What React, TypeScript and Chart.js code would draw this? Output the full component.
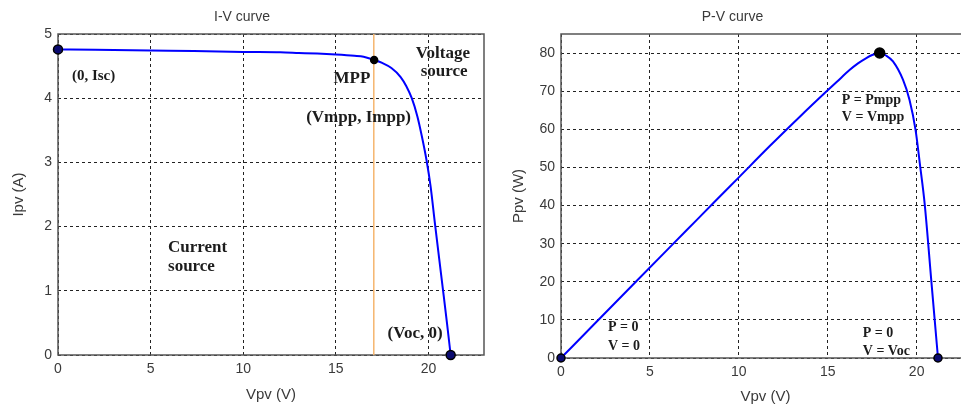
import React, { useEffect, useRef } from 'react';
import { Chart, registerables } from 'chart.js';

Chart.register(...registerables);

// ---------- I-V curve data ----------
const ivVoltage = [0, 2, 4, 6, 8, 10, 12, 13, 14, 15, 16, 16.5, 17.07, 17.5, 18.0, 18.5, 18.8, 19.1, 19.4, 19.65, 19.9, 20.12, 20.35, 20.58, 20.8, 21.0, 21.2];
const ivCurrent = [4.76, 4.755, 4.745, 4.74, 4.73, 4.72, 4.715, 4.705, 4.695, 4.68, 4.66, 4.645, 4.595, 4.55, 4.47, 4.33, 4.19, 4.0, 3.72, 3.4, 3.03, 2.62, 2.05, 1.5, 0.98, 0.5, 0];
const ivKeyVoltage = [0, 17.07, 21.2];
const ivKeyCurrent = [4.76, 4.595, 0];
const mppVoltageIV = 17.05;
const ivYRange = [0, 5];

// ---------- P-V curve data ----------
const pvVoltage = [0, 2, 4.25, 7.06, 8.75, 9.96, 11.74, 13.43, 14.83, 15.5, 16.24, 16.7, 17.17, 17.5, 17.92, 18.3, 18.67, 19.23, 19.6, 19.94, 20.2, 20.45, 20.82, 21.0, 21.2];
const pvPower = [0, 9.5, 20.2, 33.5, 41.5, 47.2, 55.6, 63.3, 69.5, 72.4, 75.6, 77.3, 78.7, 79.5, 80.0, 79.3, 77.8, 73.0, 67.7, 59.8, 50.2, 40.5, 20.5, 10.8, 0];
const pvKeyVoltage = [0, 17.92, 21.2];
const pvKeyPower = [0, 80, 0];

// ---------- axis settings ----------
const xTickStep = 5;
const ivTickStep = 1;
const pvTickStep = 10;

type Note = { text: string; x: number; y: number; align: CanvasTextAlign; size: number };

const ivNotes: Note[] = [
  { text: '(0, Isc)', x: 1.92, y: 4.35, align: 'center', size: 15 },
  { text: 'MPP', x: 15.87, y: 4.31, align: 'center', size: 17 },
  { text: '(Vmpp, Impp)', x: 16.23, y: 3.69, align: 'center', size: 17 },
  { text: 'Voltage', x: 20.78, y: 4.7, align: 'center', size: 17 },
  { text: 'source', x: 20.85, y: 4.41, align: 'center', size: 17 },
  { text: 'Current', x: 5.94, y: 1.68, align: 'left', size: 17 },
  { text: 'source', x: 5.94, y: 1.37, align: 'left', size: 17 },
  { text: '(Voc, 0)', x: 19.28, y: 0.34, align: 'center', size: 17 },
];

const pvNotes: Note[] = [
  { text: 'P = Pmpp', x: 15.79, y: 67.7, align: 'left', size: 14 },
  { text: 'V = Vmpp', x: 15.79, y: 63.0, align: 'left', size: 14 },
  { text: 'P = 0', x: 2.64, y: 7.9, align: 'left', size: 14 },
  { text: 'V = 0', x: 2.64, y: 3.15, align: 'left', size: 14 },
  { text: 'P = 0', x: 16.97, y: 6.56, align: 'left', size: 14 },
  { text: 'V = Voc', x: 16.97, y: 1.84, align: 'left', size: 14 },
];

const SANS = '"Liberation Sans", Arial, sans-serif';
const SERIF = '"Liberation Serif", "Times New Roman", serif';
const TEXT = '#3a3a3a';

function framePlugin(notes: Note[]) {
  return {
    id: 'frameNotes',
    beforeDatasetsDraw(chart: any) {
      const { ctx, chartArea: a } = chart;
      ctx.save();
      ctx.strokeStyle = '#555';
      ctx.lineWidth = 1.5;
      ctx.strokeRect(a.left, a.top, a.right - a.left, a.bottom - a.top);
      ctx.restore();
    },
    afterDraw(chart: any) {
      const { ctx } = chart;
      const xs = chart.scales.x;
      const ys = chart.scales.y;
      ctx.save();
      ctx.fillStyle = '#1c1c1c';
      ctx.textBaseline = 'middle';
      for (const n of notes) {
        ctx.font = `bold ${n.size}px ${SERIF}`;
        ctx.textAlign = n.align;
        ctx.fillText(n.text, xs.getPixelForValue(n.x), ys.getPixelForValue(n.y));
      }
      ctx.restore();
    },
  };
}

function makeConfig(p: {
  title: string;
  xTitle: string;
  yTitle: string;
  xMax: number;
  yMin: number;
  yMax: number;
  yStep: number;
  yWidth: number;
  yTitlePad: number;
  xHeight: number;
  xTitlePadBottom: number;
  rightPad: number;
  datasets: any[];
  notes: Note[];
}): any {
  return {
    type: 'scatter',
    data: { datasets: p.datasets },
    options: {
      responsive: false,
      animation: false,
      events: [],
      layout: { padding: { left: 0, right: p.rightPad, top: 0, bottom: 0 } },
      plugins: {
        legend: { display: false },
        tooltip: { enabled: false },
        title: {
          display: true,
          text: p.title,
          color: TEXT,
          font: { family: SANS, size: 14, weight: 'normal', lineHeight: 1.2 },
          padding: { top: 8.6, bottom: 8.6 },
        },
      },
      scales: {
        x: {
          type: 'linear',
          min: 0,
          max: p.xMax,
          ticks: {
            stepSize: xTickStep,
            includeBounds: false,
            padding: 5.6,
            color: TEXT,
            font: { family: SANS, size: 14, lineHeight: 1.2 },
            maxRotation: 0,
          },
          grid: { color: '#222', lineWidth: 1, drawTicks: false },
          border: { display: false, dash: [3, 3] },
          title: {
            display: true,
            text: p.xTitle,
            color: TEXT,
            font: { family: SANS, size: 15, lineHeight: 1.2 },
            padding: { top: 0, bottom: p.xTitlePadBottom },
          },
          afterFit: (s: any) => {
            s.height = p.xHeight;
          },
        },
        y: {
          type: 'linear',
          min: p.yMin,
          max: p.yMax,
          ticks: {
            stepSize: p.yStep,
            includeBounds: false,
            padding: 6,
            color: TEXT,
            font: { family: SANS, size: 14, lineHeight: 1.2 },
          },
          grid: { color: '#222', lineWidth: 1, drawTicks: false },
          border: { display: false, dash: [3, 3] },
          title: {
            display: true,
            text: p.yTitle,
            color: TEXT,
            font: { family: SANS, size: 15, lineHeight: 1.2 },
            padding: { top: p.yTitlePad, bottom: 0 },
          },
          afterFit: (s: any) => {
            s.width = p.yWidth;
          },
        },
      },
    },
    plugins: [framePlugin(p.notes)],
  };
}

export default function App() {
  const leftRef = useRef<HTMLCanvasElement>(null);
  const rightRef = useRef<HTMLCanvasElement>(null);

  useEffect(() => {
    if (!leftRef.current || !rightRef.current) return;

    const ivChart = new Chart(
      leftRef.current,
      makeConfig({
        title: 'I-V curve',
        xTitle: 'Vpv (V)',
        yTitle: 'Ipv (A)',
        xMax: 23,
        yMin: ivYRange[0],
        yMax: ivYRange[1],
        yStep: ivTickStep,
        yWidth: 58,
        yTitlePad: 10,
        xHeight: 51,
        xTitlePadBottom: 2,
        rightPad: 11,
        notes: ivNotes,
        datasets: [
          {
            label: 'key points',
            data: ivKeyVoltage.map((v, i) => ({ x: v, y: ivKeyCurrent[i] })),
            showLine: false,
            pointRadius: [4.5, 3.5, 4.5],
            pointBackgroundColor: ['#0b0b70', '#000', '#0b0b70'],
            pointBorderColor: '#000',
            pointBorderWidth: 1.5,
            clip: false,
          },
          {
            label: 'I-V',
            data: ivVoltage.map((v, i) => ({ x: v, y: ivCurrent[i] })),
            showLine: true,
            borderColor: '#0000ff',
            borderWidth: 2,
            pointRadius: 0,
            cubicInterpolationMode: 'monotone',
          },
          {
            label: 'Vmpp',
            data: ivYRange.map((y) => ({ x: mppVoltageIV, y })),
            showLine: true,
            borderColor: '#f5b56e',
            borderWidth: 1.5,
            pointRadius: 0,
          },
        ],
      })
    );

    const pvChart = new Chart(
      rightRef.current,
      makeConfig({
        title: 'P-V curve',
        xTitle: 'Vpv (V)',
        yTitle: 'Ppv (W)',
        xMax: 23,
        yMin: 0,
        yMax: 85,
        yStep: pvTickStep,
        yWidth: 66,
        yTitlePad: 15,
        xHeight: 48,
        xTitlePadBottom: 0.5,
        rightPad: 20,
        notes: pvNotes,
        datasets: [
          {
            label: 'key points',
            data: pvKeyVoltage.map((v, i) => ({ x: v, y: pvKeyPower[i] })),
            showLine: false,
            pointRadius: [4, 5, 4],
            pointBackgroundColor: ['#0b0b70', '#000', '#0b0b70'],
            pointBorderColor: '#000',
            pointBorderWidth: 1.5,
            clip: false,
          },
          {
            label: 'P-V',
            data: pvVoltage.map((v, i) => ({ x: v, y: pvPower[i] })),
            showLine: true,
            borderColor: '#0000ff',
            borderWidth: 2,
            pointRadius: 0,
            cubicInterpolationMode: 'monotone',
          },
        ],
      })
    );

    return () => {
      ivChart.destroy();
      pvChart.destroy();
    };
  }, []);

  return (
    <div
      style={{
        position: 'fixed',
        left: 0,
        top: 0,
        width: 961,
        height: 406,
        overflow: 'hidden',
        background: '#fff',
      }}
    >
      <canvas
        ref={leftRef}
        width={495}
        height={406}
        style={{ position: 'absolute', left: 0, top: 0, width: 495, height: 406 }}
      />
      <canvas
        ref={rightRef}
        width={495}
        height={406}
        style={{ position: 'absolute', left: 495, top: 0, width: 495, height: 406 }}
      />
    </div>
  );
}
